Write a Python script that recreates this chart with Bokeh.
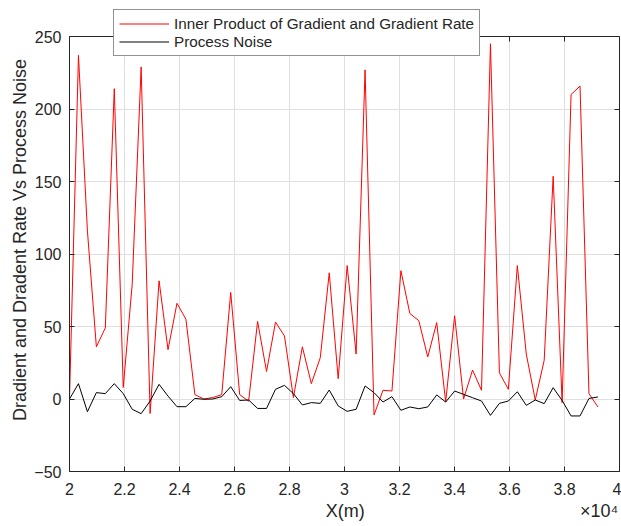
import numpy as np
from bokeh.plotting import figure
from bokeh.models import FixedTicker, LinearAxis, Legend, LegendItem, Range1d
from bokeh.embed import file_html
from bokeh.resources import INLINE

# sample positions along the track (m)
x_m = list(np.linspace(20000, 39216, 60))

inner_product = [0, 237, 116, 36, 49, 214, 8, 79, 229, -10,
                 81.5, 34, 66, 55, 3, 0, 1, 3, 73.5, 3,
                 -1.5, 53.5, 19, 53, 43.5, 1, 36, 10.6, 28.5, 87,
                 14, 92, 31, 227, -11, 6, 5.5, 88.5, 59, 54,
                 29, 52.7, -2, 57.4, 0, 20, 6, 245, 18, 6.7,
                 92, 31, -0.7, 26.7, 153.6, -2.5, 210, 215.8, 3.7, -5.5]

process_noise = [0, 10.6, -8.8, 4.4, 3.7, 10.6, 3.7, -7.1, -10.1, -1.4,
                 10.1, 2, -5.3, -5.3, 0.4, -0.2, 0, 1.6, 8.5, -1,
                 -0.7, -6.5, -6.5, 6.7, 9.4, 3.7, -4.1, -2.5, -3, 6.2,
                 -4.8, -8.5, -7.1, 9, 4.4, -2.1, 1.6, -7.8, -5.5, -6.7,
                 -5.5, 2.8, -2.1, 5.5, 3.2, 0.9, -1.4, -11.3, -3, -1.4,
                 5, -4.4, -0.7, -3.2, 7.8, -1, -11.7, -11.7, 0.4, 1.4]

x_ticks = [20000, 22000, 24000, 26000, 28000, 30000, 32000, 34000, 36000, 38000, 40000]
x_tick_labels = ["2", "2.2", "2.4", "2.6", "2.8", "3", "3.2", "3.4", "3.6", "3.8", "4"]
y_ticks = [-50, 0, 50, 100, 150, 200, 250]

series_names = ["Inner Product of Gradient and Gradient Rate", "Process Noise"]
x_label = "X(m)"
x_multiplier = "\u00d710\u2074"
y_label = "Dradient and Dradent Rate Vs Process Noise"

FONT = "Liberation Sans"
TXT = "#262626"
NB = "\u00a0"

# frame: left 69, right 619, top 8 (room for the legend), bottom 471
# y=250 must land at 36 px -> extend the range above 250
px_per_unit = (471 - 36) / (y_ticks[-1] - y_ticks[0])
y_top = y_ticks[-1] + (36 - 8) / px_per_unit

p = figure(width=621, height=526, output_backend="svg", toolbar_location=None,
           x_range=Range1d(x_ticks[0], x_ticks[-1]), y_range=Range1d(y_ticks[0], y_top),
           min_border_left=69, min_border_right=2, min_border_top=8, min_border_bottom=55,
           background_fill_color="white", border_fill_color="white")
p.outline_line_color = None

# vertical grid lines limited to the data box
p.xgrid.visible = False
p.segment(x0=x_ticks, y0=y_ticks[0], x1=x_ticks, y1=y_ticks[-1],
          line_color="#dfdfdf", line_width=1, level="underlay")
p.ygrid.ticker = FixedTicker(ticks=y_ticks)
p.ygrid.grid_line_color = "#dfdfdf"

r1 = p.line(x_m, inner_product, line_color="#ff0000", line_width=1)
r2 = p.line(x_m, process_noise, line_color="#000000", line_width=1)

xt = FixedTicker(ticks=x_ticks)
yt = FixedTicker(ticks=y_ticks)

xa = p.xaxis[0]
xa.ticker = xt
xa.major_label_overrides = {t: l for t, l in zip(x_ticks, x_tick_labels)}
xa.axis_label = NB * 51 + x_label + NB * 43 + x_multiplier
xa.axis_label_standoff = 3
xa.major_label_standoff = 11

ya = p.yaxis[0]
ya.ticker = yt
ya.bounds = (y_ticks[0], y_ticks[-1])
ya.axis_label = y_label
ya.axis_label_standoff = 1
ya.major_label_standoff = 8

for ax in (xa, ya):
    ax.axis_label_text_font = FONT
    ax.axis_label_text_font_size = "18px"
    ax.axis_label_text_font_style = "normal"
    ax.axis_label_text_color = TXT
    ax.major_tick_in = 5
    ax.major_tick_out = 0
    ax.minor_tick_line_color = None
    ax.axis_line_color = TXT
    ax.major_tick_line_color = TXT
    ax.major_label_text_font = FONT
    ax.major_label_text_font_size = "16px"
    ax.major_label_text_color = TXT

top_ax = LinearAxis(ticker=xt, fixed_location=y_ticks[-1])
right_ax = LinearAxis(ticker=yt, bounds=(y_ticks[0], y_ticks[-1]))
for ax in (top_ax, right_ax):
    ax.major_tick_in = 5
    ax.major_tick_out = 0
    ax.minor_tick_line_color = None
    ax.axis_line_color = TXT
    ax.major_tick_line_color = TXT
    ax.major_label_text_font_size = "0px"
    ax.major_label_standoff = 0
    ax.major_label_text_alpha = 0
p.add_layout(top_ax, "above")
p.add_layout(right_ax, "right")

legend = Legend(items=[LegendItem(label=series_names[0], renderers=[r1]),
                       LegendItem(label=series_names[1], renderers=[r2])],
                location=(44, 415), orientation="vertical",
                label_text_font=FONT, label_text_font_size="15.25px", label_text_color=TXT,
                glyph_width=50, glyph_height=17, label_height=17, label_standoff=5,
                padding=5, spacing=1, margin=0,
                border_line_color=TXT, border_line_width=1,
                background_fill_color="white", background_fill_alpha=1.0)
p.add_layout(legend)

open("out.html", "w").write(file_html(p, INLINE))
